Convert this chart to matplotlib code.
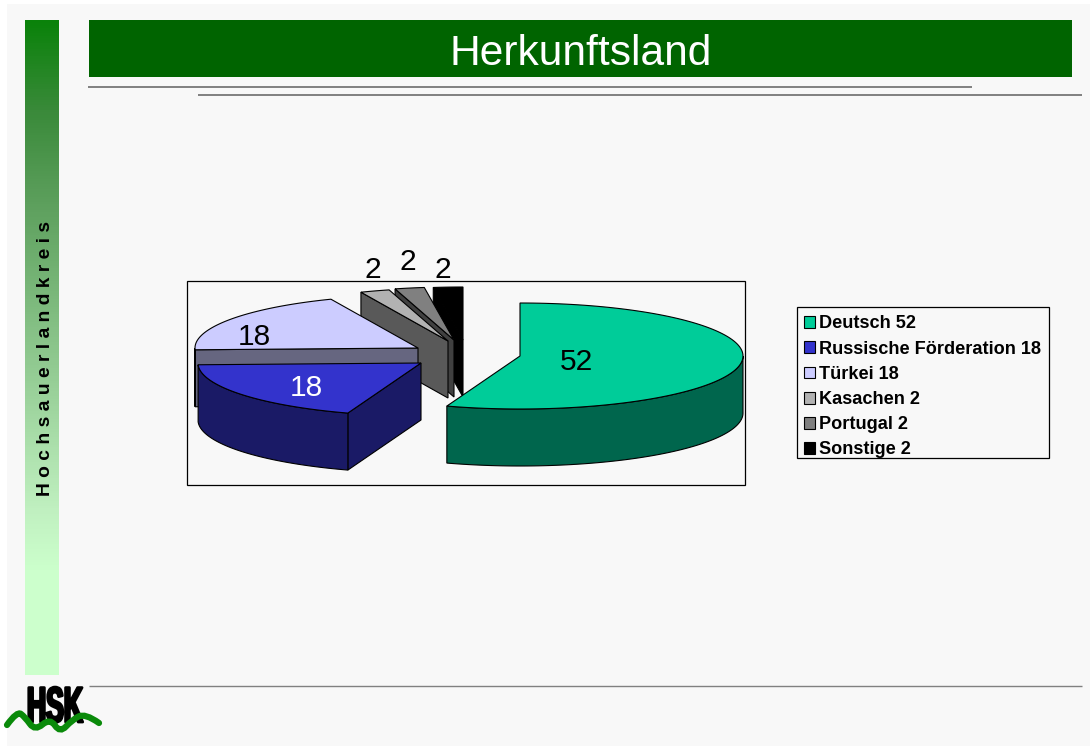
# Slide with a 3D style exploded pie, drawn by hand because matplotlib has no 3D pie.
import numpy as np
import matplotlib
matplotlib.use('Agg')
import matplotlib.pyplot as plt
from matplotlib.colors import LinearSegmentedColormap
from matplotlib.patches import Patch, PathPatch, Polygon, Rectangle
from matplotlib.path import Path
from matplotlib.patheffects import AbstractPathEffect
from matplotlib.transforms import Affine2D

plt.rcParams['font.family'] = ['Liberation Sans', 'DejaVu Sans']

TITLE = 'Herkunftsland'
SIDE_TEXT = 'H o c h s a u e r l a n d k r e i s'
LOGO_TEXT = 'HSK'

countries = ['Deutsch', 'Russische Förderation', 'Türkei', 'Kasachen', 'Portugal', 'Sonstige']
values = [52, 18, 18, 2, 2, 2]

top_colors = ['#00cc99', '#3333cc', '#ccccff', '#b2b2b2', '#808080', '#000000']
side_colors = ['#00664d', '#1a1a66', '#666680', '#595959', '#404040', '#000000']
# slice centres in pixels, the slices are pulled apart
centers = [(520, 356), (421, 363), (418, 348), (448, 341), (454, 340), (463, 340)]
label_pos = [(576, 362), (306, 388), (254, 337), (373, 270), (408, 262), (443, 270)]
label_colors = ['black', 'white', 'black', 'black', 'black', 'black']

RX = 223
RY = 53
DEPTH = 57


class Squeeze(AbstractPathEffect):  # narrows the logo letters, no condensed font around
	def __init__(self, sx, stroke):
		super().__init__()
		self.sx = sx
		self.stroke = stroke

	def draw_path(self, renderer, gc, tpath, affine, rgbFace=None):
		gc0 = renderer.new_gc()
		gc0.copy_properties(gc)
		gc0.set_linewidth(self.stroke)
		gc0.set_foreground('black')
		renderer.draw_path(gc0, tpath, Affine2D().scale(self.sx, 1) + affine, rgbFace)
		gc0.restore()


def fn_point(center, angle, drop=0):  # angle in degrees, clockwise from the top
	a = np.radians(angle)
	return center[0] + RX*np.sin(a), center[1] - RY*np.cos(a) + drop


def fn_arc(center, a_from, a_to, drop=0):
	angles = np.linspace(a_from, a_to, 120)
	return [fn_point(center, a, drop) for a in angles]


def fn_cut(ax, center, angle, color):  # flat face from the centre out to the rim
	rim = fn_point(center, angle)
	pts = [center, rim, (rim[0], rim[1]+DEPTH), (center[0], center[1]+DEPTH)]
	ax.add_patch(Polygon(pts, closed=True, fc=color, ec='black', lw=0.8, zorder=3))


def fn_slice(ax, center, a_from, a_to, top, side):
	if a_from > 180:
		fn_cut(ax, center, a_from, side)
	if 0 < a_to < 180:
		fn_cut(ax, center, a_to, side)
	# outer wall only where the rim faces the viewer
	w_from = max(a_from, 90)
	w_to = min(a_to, 270)
	if w_from < w_to:
		pts = fn_arc(center, w_from, w_to) + fn_arc(center, w_to, w_from, DEPTH)
		ax.add_patch(Polygon(pts, closed=True, fc=side, ec='black', lw=0.8, zorder=3))
	pts = [center] + fn_arc(center, a_from, a_to)
	ax.add_patch(Polygon(pts, closed=True, fc=top, ec='black', lw=0.8, zorder=3))


fig = plt.figure(figsize=(10.9, 7.46), dpi=100, facecolor='white')
ax = fig.add_axes([0, 0, 1, 1])

# side bar with gradient
bar_cmap = LinearSegmentedColormap.from_list('bar', [(0, '#0a820a'), (0.137, '#3a8a3a'), (0.275, '#5c9f5c'),
													 (0.748, '#c0f0c0'), (0.84, '#ccffcc'), (1, '#ccffcc')])
ramp = np.linspace(0, 1, 655).reshape(-1, 1)
ax.imshow(ramp, cmap=bar_cmap, extent=(25, 59, 675, 20), aspect='auto', zorder=1)
ax.set_xlim(0, 1090)
ax.set_ylim(746, 0)
ax.axis('off')

# page and header
ax.add_patch(Rectangle((7, 4), 1083, 742, fc='#f8f8f8', ec='none', zorder=0))
ax.add_patch(Rectangle((89, 20), 983, 57, fc='#006400', ec='none', zorder=1))
ax.text(581, 54, TITLE, color='white', fontsize=30.6, ha='center', va='center', zorder=2)
ax.plot([88, 972], [87, 87], color='#808080', lw=1.4, zorder=1, solid_capstyle='butt')
ax.plot([198, 1082], [95, 95], color='#808080', lw=1.4, zorder=1, solid_capstyle='butt')
ax.plot([89, 1082], [686, 686], color='#808080', lw=1.0, zorder=1, solid_capstyle='butt')
ax.text(46, 359, SIDE_TEXT, rotation=90, fontsize=13.9, fontweight='bold',
		ha='center', va='center', zorder=2)

# logo
logo = ax.text(27, 722, LOGO_TEXT, fontsize=36, fontweight='bold', ha='left', va='baseline', zorder=2)
logo.set_path_effects([Squeeze(0.53, 2.0)])
wave_pts = [(7, 725), (17, 711), (25, 717), (35, 731), (50, 718), (60, 733), (72, 720), (85, 713), (99, 723)]
codes = [Path.MOVETO] + [Path.CURVE3]*(2*(len(wave_pts)-2))
verts = [wave_pts[0]]
for i in range(1, len(wave_pts)-1):  # quadratic pieces through the midpoints
	verts.append(wave_pts[i])
	if i < len(wave_pts)-2:
		verts.append(((wave_pts[i][0]+wave_pts[i+1][0])/2, (wave_pts[i][1]+wave_pts[i+1][1])/2))
	else:
		verts.append(wave_pts[i+1])
ax.add_patch(PathPatch(Path(verts, codes), fc='none', ec='#0a8a0a', lw=4.5, zorder=3, capstyle='round'))

# pie frame
ax.add_patch(Rectangle((187, 281), 558, 204, fc='none', ec='black', lw=0.9, zorder=2))

# slices go clockwise from the top, painted back to front
edges = np.cumsum([0] + values) / sum(values) * 360
for i in [5, 4, 3, 2, 1, 0]:
	fn_slice(ax, centers[i], edges[i], edges[i+1], top_colors[i], side_colors[i])
for i in range(len(values)):
	ax.text(label_pos[i][0], label_pos[i][1], str(values[i]), color=label_colors[i],
			fontsize=21.5, ha='center', va='center', zorder=4)

# legend, frame drawn apart so its size can follow the slide
ax.add_patch(Rectangle((797, 307), 252, 151, fc='none', ec='black', lw=0.9, zorder=2))
handles = [Patch(fc=top_colors[i], ec='black', lw=0.8) for i in range(len(values))]
labels = ['%s %d' % (countries[i], values[i]) for i in range(len(values))]
leg = ax.legend(handles, labels, loc='upper left', bbox_to_anchor=(804/1090, 1-315.5/746),
				prop={'family': 'Liberation Sans', 'weight': 'bold', 'size': 13.1},
				frameon=False, borderaxespad=0, borderpad=0, handlelength=0.62, handleheight=0.62,
				handletextpad=0.22, labelspacing=0.45)
leg.set_zorder(5)

plt.savefig('out.png', dpi=100)
